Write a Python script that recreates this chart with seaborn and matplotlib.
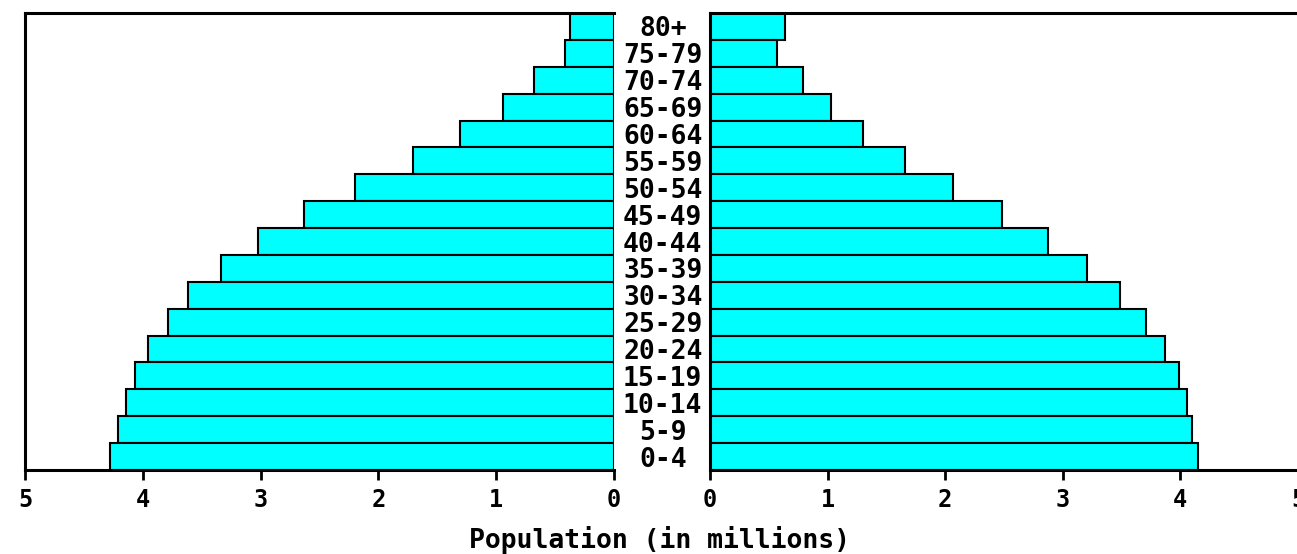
import numpy as np
import pandas as pd
import seaborn as sns
import matplotlib.pyplot as plt

ages = ["80+", "75-79", "70-74", "65-69", "60-64", "55-59", "50-54", "45-49",
        "40-44", "35-39", "30-34", "25-29", "20-24", "15-19", "10-14", "5-9", "0-4"]
male = [0.37, 0.42, 0.68, 0.94, 1.31, 1.71, 2.20, 2.63, 3.02, 3.34, 3.62, 3.79,
        3.96, 4.07, 4.14, 4.21, 4.28]
female = [0.64, 0.57, 0.79, 1.03, 1.30, 1.66, 2.07, 2.48, 2.87, 3.21, 3.49, 3.71,
          3.87, 3.99, 4.06, 4.10, 4.15]
ticks = [0, 1, 2, 3, 4, 5]

df = pd.DataFrame({"age": ages, "male": male, "female": female})

plt.rcParams["font.family"] = ["DejaVu Sans Mono"]
plt.rcParams["font.weight"] = "bold"

fig = plt.figure(figsize=(12.97, 5.54), dpi=100)
W, H = 1297, 554
bottom = (H - 470) / H
height = (470 - 13) / H
ax_l = fig.add_axes([25 / W, bottom, (614 - 25) / W, height])
ax_r = fig.add_axes([710 / W, bottom, (1298 - 710) / W, height])

bar_kw = dict(orient="h", color="#00FFFF", saturation=1, edgecolor="black",
              linewidth=1.5, width=1.0)
sns.barplot(data=df, x="male", y="age", ax=ax_l, **bar_kw)
sns.barplot(data=df, x="female", y="age", ax=ax_r, **bar_kw)

ax_l.set_xlim(5, 0)
ax_r.set_xlim(0, 5)
for ax in (ax_l, ax_r):
    ax.set_ylim(len(ages) - 0.5, -0.5)
    ax.set_xticks(ticks)
    ax.set_xticklabels([str(t) for t in ticks])
    ax.set_xlabel("")
    ax.set_ylabel("")
    ax.spines["right"].set_visible(False)
    for s in ("left", "top", "bottom"):
        ax.spines[s].set_linewidth(2.2)
    ax.tick_params(axis="x", direction="out", length=7, width=2, pad=6,
                   labelsize=17)

ax_l.set_yticks([])
ax_r.set_yticks(range(len(ages)))
ax_r.set_yticklabels(ages, ha="center", fontsize=19)
ax_r.tick_params(axis="y", length=0, pad=34)

fig.text(660 / W, 1 - 540 / H, "Population (in millions)", ha="center",
         va="center", fontsize=19)

fig.savefig("out.png", dpi=100)
